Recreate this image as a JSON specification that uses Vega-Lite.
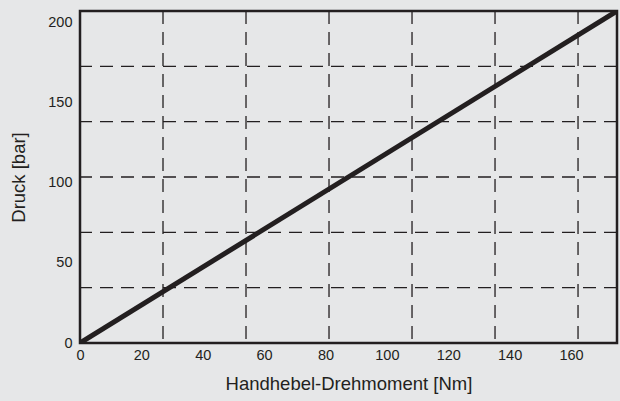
{
  "$schema": "https://vega.github.io/schema/vega-lite/v6.json",
  "width": 537,
  "height": 332,
  "autosize": {"type": "none"},
  "padding": {"left": 80, "top": 11, "right": 3, "bottom": 58},
  "background": "#e6e7e8",
  "config": {
    "view": {"stroke": "#231f20", "strokeWidth": 2.5, "fill": "#e6e7e8"},
    "font": "Liberation Sans",
    "axis": {
      "grid": false, "domain": false, "ticks": false,
      "labelColor": "#231f20", "titleColor": "#231f20",
      "labelFontSize": 14.5, "titleFontSize": 18.5, "titleFontWeight": "normal",
      "labelFlush": false, "labelOverlap": false
    }
  },
  "datasets": {
    "line": [{"x": 0, "y": 0}, {"x": 175, "y": 207}],
    "vgrid": [{"x": 27.05}, {"x": 54.1}, {"x": 81.15}, {"x": 108.2}, {"x": 135.25}, {"x": 162.3}],
    "hgrid": [{"y": 34.5}, {"y": 69}, {"y": 103.5}, {"y": 138}, {"y": 172.5}]
  },
  "layer": [
    {
      "data": {"name": "vgrid"},
      "mark": {"type": "rule", "strokeDash": [13, 8], "strokeWidth": 1.3, "color": "#231f20"},
      "encoding": {
        "x": {"field": "x", "type": "quantitative", "scale": {"domain": [0, 175], "nice": false, "zero": false},
              "axis": {"values": [0, 20, 40, 60, 80, 100, 120, 140, 160], "title": "Handhebel-Drehmoment [Nm]", "labelPadding": 5, "titlePadding": 13}}
      }
    },
    {
      "data": {"name": "hgrid"},
      "mark": {"type": "rule", "strokeDash": [13, 8], "strokeWidth": 1.3, "color": "#231f20"},
      "encoding": {
        "y": {"field": "y", "type": "quantitative", "scale": {"domain": [0, 207], "nice": false, "zero": false},
              "axis": {"values": [0, 50, 100, 150, 200], "title": "Druck [bar]", "labelPadding": 8, "titlePadding": 19}}
      }
    },
    {
      "data": {"name": "line"},
      "mark": {"type": "line", "strokeWidth": 5, "color": "#231f20", "clip": true},
      "encoding": {
        "x": {"field": "x", "type": "quantitative", "scale": {"domain": [0, 175], "nice": false, "zero": false},
              "axis": {"values": [0, 20, 40, 60, 80, 100, 120, 140, 160], "title": "Handhebel-Drehmoment [Nm]", "labelPadding": 5, "titlePadding": 13}},
        "y": {"field": "y", "type": "quantitative", "scale": {"domain": [0, 207], "nice": false, "zero": false},
              "axis": {"values": [0, 50, 100, 150, 200], "title": "Druck [bar]", "labelPadding": 8, "titlePadding": 19}}
      }
    }
  ]
}
